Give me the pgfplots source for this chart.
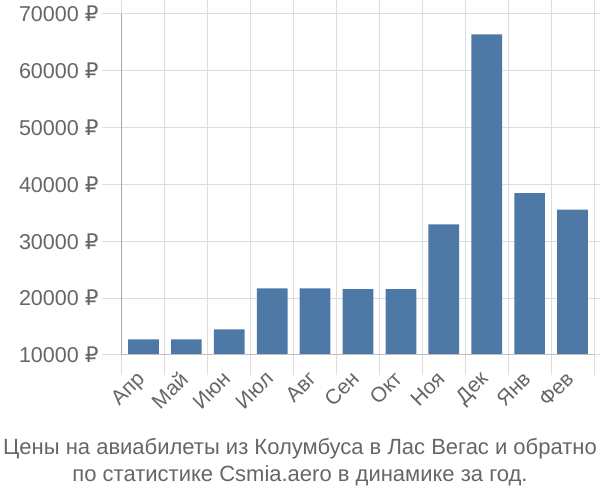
\documentclass[border=0pt]{standalone}
\usepackage{pgfplots}
\pgfplotsset{compat=1.18}
\usepackage{fontspec}
\setmainfont{Liberation Sans}
\newfontfamily\dv{DejaVu Sans}
\newcommand{\rub}{{\dv ₽}}
\definecolor{barc}{HTML}{4E79A7}
\definecolor{gridc}{HTML}{DDDDDD}
\definecolor{txtc}{HTML}{666666}
\begin{document}
\begin{tikzpicture}
\path[use as bounding box] (-122pt,-145pt) rectangle (478pt,355pt);
\begin{axis}[
  at={(0,0)}, anchor=south west,
  scale only axis, width=472pt, height=341pt,
  xmin=-0.5, xmax=10.5, ymin=10000, ymax=70000,
  scaled y ticks=false,
  axis line style={draw=none},
  xtick={-0.5,0.5,...,10.5}, xticklabels={},
  ytick={10000,20000,...,70000},
  yticklabels={10000 \rub,20000 \rub,30000 \rub,40000 \rub,50000 \rub,60000 \rub,70000 \rub},
  grid=major, grid style={gridc, line width=1pt},
  tick align=outside, major tick length=20pt,
  tick style={gridc, line width=1pt},
  y tick label style={font=\fontsize{21.5}{24}\selectfont, text=txtc},
  x tick label style={font=\fontsize{21}{24}\selectfont, text=txtc, xshift=-8pt, yshift=-10pt, rotate=45, anchor=north east},
  extra x ticks={0,...,10},
  extra x tick labels={Апр,Май,Июн,Июл,Авг,Сен,Окт,Ноя,Дек,Янв,Фев},
  extra x tick style={grid=none, major tick length=0pt},
  clip=false,
]
\addplot[ybar, bar width=30.7pt, fill=barc, draw=none] coordinates {
(0,12760) (1,12760) (2,14520) (3,21730) (4,21730) (5,21610) (6,21610) (7,33000) (8,66430) (9,38500) (10,35570)};
\draw[color=black!35, line width=1pt] (axis cs:-0.5,10000) -- (axis cs:-0.5,70000);
\draw[color=black!25, line width=1pt] (axis cs:-0.5,10000) -- (axis cs:10.5,10000);
\end{axis}
\node[text=txtc, font=\fontsize{22}{27}\selectfont, align=center] at (178pt,-107pt) {Цены на авиабилеты из Колумбуса в Лас Вегас и обратно\\по статистике Csmia.aero в динамике за год.};
\end{tikzpicture}
\end{document}
